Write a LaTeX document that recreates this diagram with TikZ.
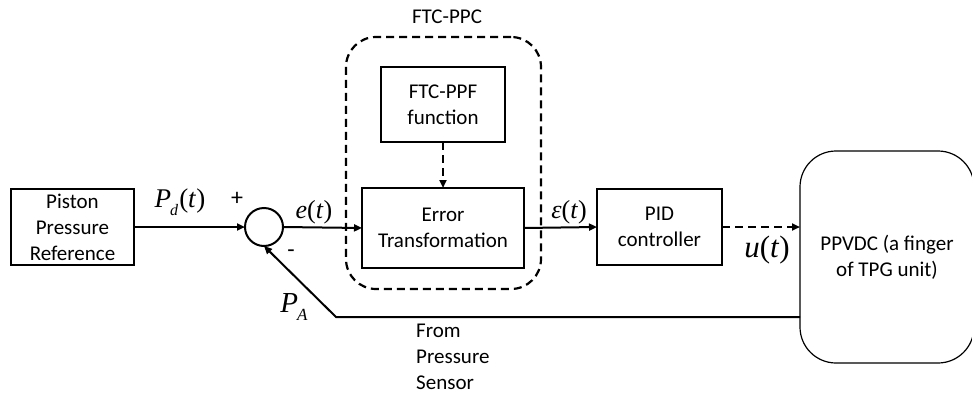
\documentclass[tikz,border=0pt]{standalone}
\usepackage{fontspec}
\setmainfont{Carlito}
\newfontfamily\tnr{Liberation Serif}
\usetikzlibrary{arrows.meta}
\begin{document}
\begin{tikzpicture}[x=1pt,y=-1pt,
  blk/.style={draw, line width=1.2pt, inner sep=0pt, outer sep=0pt, align=center, font=\fontsize{21}{26}\selectfont},
  txt/.style={inner sep=0pt, align=center, font=\fontsize{21}{26}\selectfont},
  conn/.style={line width=2pt, -{Triangle[length=8pt,width=7pt]}},
  dconn/.style={conn, dash pattern=on 8pt off 5pt},
  mlbl/.style={inner sep=0pt, font=\tnr}]
\useasboundingbox (0,0) rectangle (972,399);
% blocks
\node[blk, minimum width=123pt, minimum height=76pt] (ref) at (72.5,227) {Piston\\Pressure\\Reference};
\node[circle, draw, line width=2pt, minimum size=38pt, inner sep=0pt, outer sep=0pt] (sum) at (264,227) {};
\node[blk, minimum width=162pt, minimum height=80pt] (et) at (443,228) {Error\\Transformation};
\node[blk, minimum width=124pt, minimum height=75pt] (ppf) at (443,104.5) {FTC-PPF\\function};
\node[blk, minimum width=125pt, minimum height=76pt] (pid) at (659.5,227) {PID\\controller};
\node[draw, line width=1.2pt, rounded corners=36pt, minimum width=174pt, minimum height=212pt, inner sep=0pt, outer sep=0pt, align=center, font=\fontsize{21}{26}\selectfont] (ppv) at (887,257) {PPVDC (a finger\\of TPG unit)};
% dashed group
\node[draw, line width=2.2pt, dash pattern=on 8pt off 5pt, rounded corners=30pt, minimum width=195pt, minimum height=252pt, inner sep=0pt] (grp) at (443.5,163) {};
\node[txt] (grpl) at (447,17) {FTC-PPC};
% connectors
\draw[conn] (ref.east) -- (sum.west);
\draw[conn] (sum.east) -- (et.west);
\draw[dconn] (ppf.south) -- (et.north);
\draw[conn] (et.east) -- (pid.west);
\draw[dconn] (pid.east) -- (ppv.west |- pid.east);
\coordinate (fbc) at (336,317);
\draw[conn] (ppv.west |- fbc) -- (fbc) -- (sum.south);
% labels
\node[txt, font=\fontsize{24}{24}\selectfont] (plus) at (237,199) {+};
\node[txt, font=\fontsize{24}{24}\selectfont] (minus) at (291,254) {-};
\node[mlbl] (pd) at (180,202) {\fontsize{27}{27}\selectfont\textit{P}\kern-1pt\raisebox{-0.3em}{\fontsize{16}{16}\selectfont\textit{d}}\kern1pt(\textit{t})};
\node[mlbl] (el) at (314,212) {\fontsize{26}{26}\selectfont\textit{e}(\textit{t})};
\node[mlbl] (epl) at (569,212) {\fontsize{26}{26}\selectfont\textit{ε}(\textit{t})};
\node[mlbl] (ul) at (767,250) {\fontsize{31}{31}\selectfont\textit{u}(\textit{t})};
\node[mlbl] (pa) at (294,307) {\fontsize{29}{29}\selectfont\textit{P}\kern-1pt\raisebox{-0.3em}{\fontsize{17}{17}\selectfont\textit{A}}};
\node[txt, align=left, anchor=north west] (fs) at (416,324) {From\\Pressure\\Sensor};
\end{tikzpicture}
\end{document}
